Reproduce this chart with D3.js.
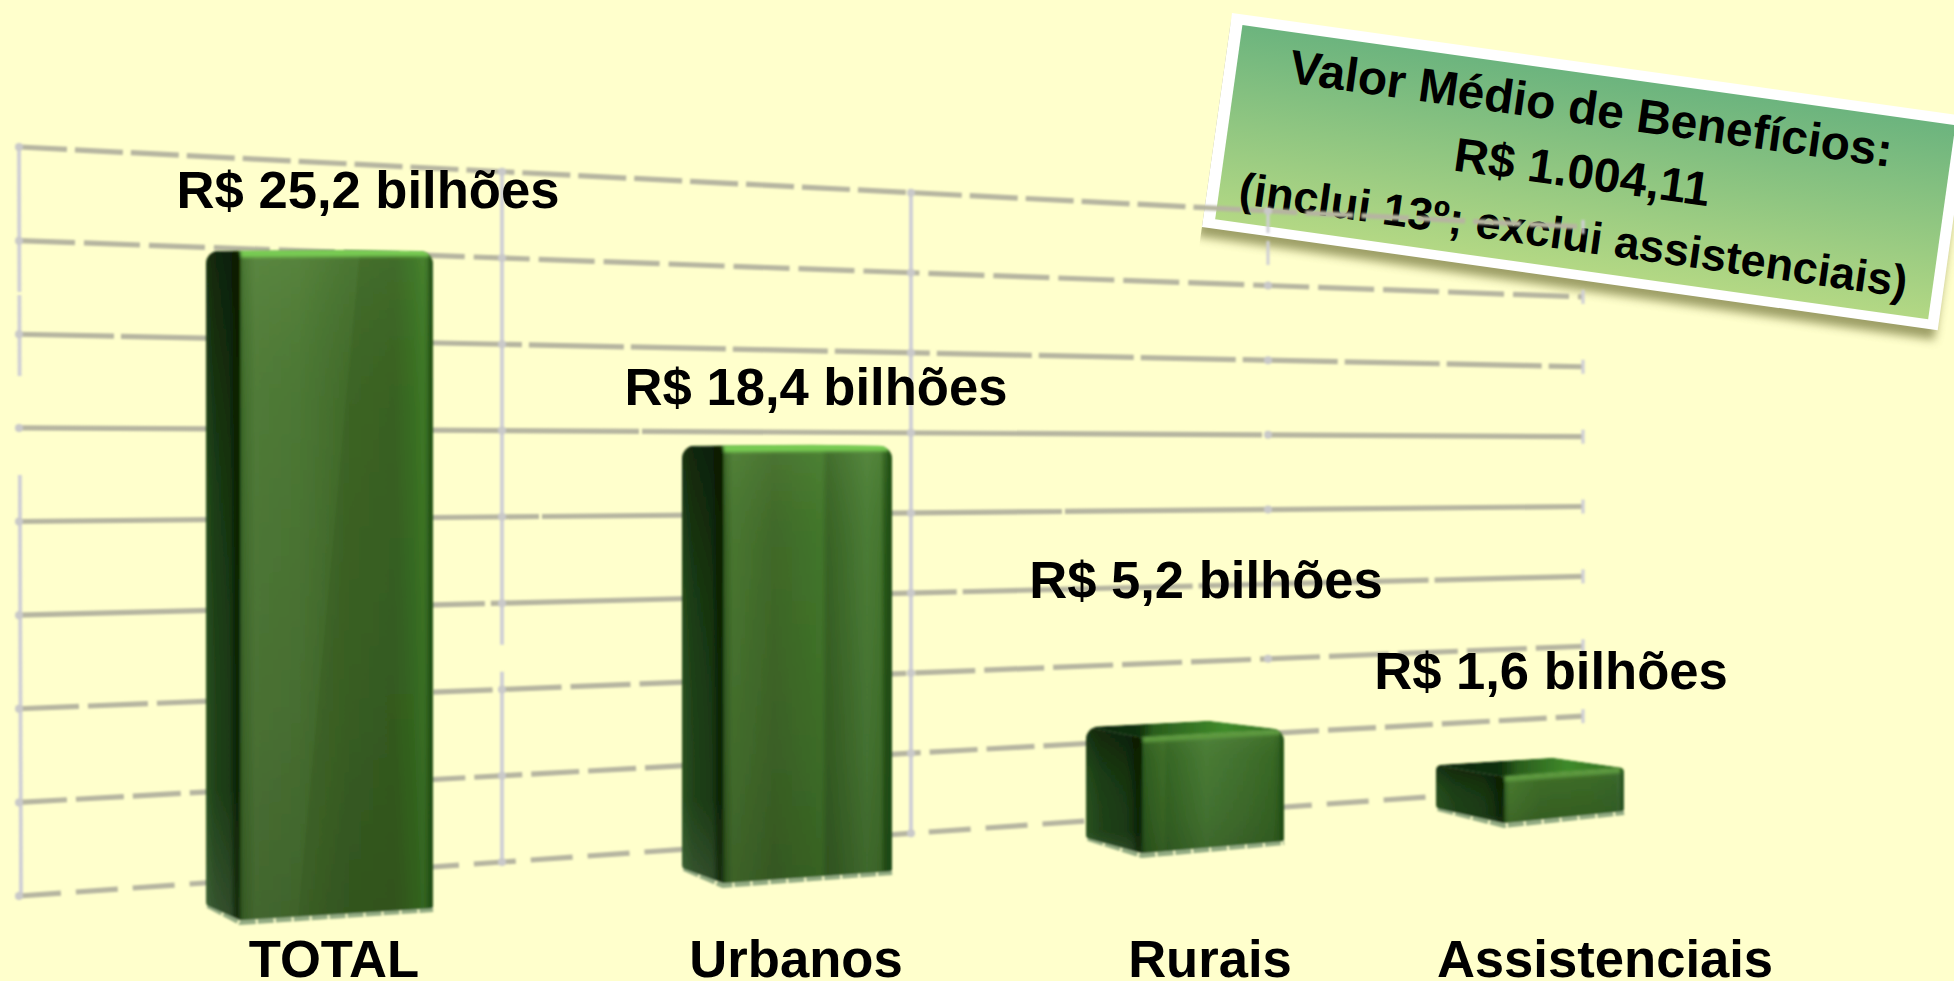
<!DOCTYPE html>
<html lang="pt">
<head>
<meta charset="utf-8">
<title>Valor de benefícios</title>
<script src="https://cdn.jsdelivr.net/npm/d3@7/dist/d3.min.js"></script>
<style>
html,body{margin:0;padding:0;background:#ffffcc;overflow:hidden}
svg{display:block}
text{font-family:"Liberation Sans",Arial,sans-serif;font-weight:700;fill:#000}
</style>
</head>
<body>
<svg id="chart" width="1954" height="981"></svg>
<script>
const categories = ["TOTAL", "Urbanos", "Rurais", "Assistenciais"];
const values = [25.2, 18.4, 5.2, 1.6];
const valueLabels = ["R$ 25,2 bilhões", "R$ 18,4 bilhões", "R$ 5,2 bilhões", "R$ 1,6 bilhões"];
const gridLevels = [0, 1, 2, 3, 4, 5, 6, 7, 8];
const noteLines = ["Valor Médio de Benefícios:", "R$ 1.004,11", "(inclui 13º; exclui assistenciais)"];

const W = 1954, H = 981;
const svg = d3.select("#chart");
const defs = svg.append("defs");
const idx = categories.map((_, i) => i);

/* perspective scales: the floor recedes to the right */
const xLeft   = d3.scaleLinear().domain(idx).range([206, 682, 1086, 1436]);
const xFront  = d3.scaleLinear().domain(idx).range([240, 723, 1142, 1504]);
const xRight  = d3.scaleLinear().domain(idx).range([433, 892, 1284, 1624]);
const ground  = d3.scaleLinear().domain(idx).range([920, 883, 853, 823]);
const unitPx  = d3.scaleLinear().domain(idx).range([25.7, 22.6, 18.3, 16.25]);
const capRise = d3.scaleLinear().domain([450, 777]).range([1.5, 12]).clamp(true);
const topOf   = i => ground(i) - 20 - unitPx(i) * values[i];

const catX    = d3.scaleLinear().domain(idx).range([334, 796, 1210, 1605]);
const valX    = d3.scaleLinear().domain(idx).range([368, 816, 1206, 1551]);
const valY    = d3.scaleLinear().domain(idx).range([208, 405, 598, 689]);

/* wall grid */
const gridLeft  = d3.scaleLinear().domain([0, 8]).range([896, 147]);
const gridRight = d3.scaleLinear().domain([0, 8]).range([786, 227]);
const wallX = d3.scaleLinear().domain([0, 1]).range([19, 1583]);
const gridY = (level, x) => d3.scaleLinear().domain([wallX(0), wallX(1)]).range([gridLeft(level), gridRight(level)])(x);

/* filters */
const blurFilter = (id, sd) => {
  defs.append("filter").attr("id", id).attr("filterUnits", "userSpaceOnUse")
    .attr("x", 0).attr("y", 0).attr("width", W).attr("height", H)
    .append("feGaussianBlur").attr("stdDeviation", sd);
};
blurFilter("softGrid", 0.8);
blurFilter("softBar", 0.9);
blurFilter("soft", 1.5);
blurFilter("shadowBlur", 5);

function gradient(id, stops, attrs) {
  const g = defs.append("linearGradient").attr("id", id);
  Object.entries(attrs || {}).forEach(([k, v]) => g.attr(k, v));
  stops.forEach(s => g.append("stop").attr("offset", s[0]).attr("stop-color", s[1]).attr("stop-opacity", s[2] === undefined ? 1 : s[2]));
  return g;
}

gradient("noteFill", [[0, "#6cb47e"], [1, "#b3d884"]], {x1: 0, x2: 0, y1: 0, y2: 1});

/* ---------- note box ---------- */
const note = svg.append("g").attr("transform", "translate(1232,13) rotate(8)");
note.append("rect").attr("x", -4).attr("y", 10).attr("width", 745).attr("height", 216)
  .attr("fill", "#7d7f45").attr("opacity", .75).attr("filter", "url(#shadowBlur)");
note.append("rect").attr("width", 743).attr("height", 216).attr("fill", "#ffffff");
note.append("rect").attr("x", 12).attr("y", 10.5).attr("width", 720).attr("height", 196).attr("fill", "url(#noteFill)");
const noteSize = [47.8, 47.8, 45];
const noteBase = [61, 125, 188];
note.selectAll("text").data(noteLines).join("text")
  .attr("x", 369).attr("y", (d, i) => noteBase[i]).attr("text-anchor", "middle")
  .attr("font-size", (d, i) => noteSize[i]).text(d => d);

/* ---------- grid ---------- */
const grid = svg.append("g").attr("filter", "url(#softGrid)");
const dashes = {8: "48 8", 7: "56 9", 6: "95 7", 5: "620 3", 4: "520 3", 3: "230 6", 2: "60 9", 1: "48 9", 0: "42 15"};

const verticals = [
  {x: 19, dash: "145 3 81 99 440", from: 8, to: 0},
  {x: 502, dash: "473 27 300", from: 8, to: 0},
  {x: 911, dash: null, from: 8, to: 0}
];
grid.selectAll("line.v").data(verticals).join("line").attr("class", "v")
  .attr("x1", d => d.x).attr("x2", d => d.x + (d.x === 19 ? 2 : 0))
  .attr("y1", d => gridY(d.from, d.x)).attr("y2", d => gridY(d.to, d.x))
  .attr("stroke", "#cfcfd6").attr("stroke-width", 3.8)
  .attr("stroke-dasharray", d => d.dash);
/* short stub of the fourth wall division, just below the note box */
grid.append("line").attr("x1", 1268).attr("x2", 1268)
  .attr("y1", gridY(8, 1268)).attr("y2", gridY(8, 1268) + 54)
  .attr("stroke", "#cfcfd6").attr("stroke-width", 3).attr("stroke-dasharray", "22 8 24");

grid.selectAll("line.h").data(gridLevels).join("line").attr("class", "h")
  .attr("x1", wallX(0)).attr("x2", wallX(1))
  .attr("y1", d => gridLeft(d)).attr("y2", d => gridRight(d))
  .attr("stroke", "#b6b5a0").attr("stroke-width", 5.2)
  .attr("stroke-dasharray", d => dashes[d]);

/* crossing nubs and right-hand end ticks */
const crossings = gridLevels.flatMap(l => [19, 502, 911, 1268].map(x => ({l, x})));
grid.selectAll("circle.n").data(crossings).join("circle").attr("class", "n")
  .attr("cx", d => d.x).attr("cy", d => gridY(d.l, d.x)).attr("r", 4).attr("fill", "#c9c9c9");
grid.selectAll("line.e").data(gridLevels).join("line").attr("class", "e")
  .attr("x1", wallX(1)).attr("x2", wallX(1))
  .attr("y1", d => gridRight(d) - 7).attr("y2", d => gridRight(d) + 7)
  .attr("stroke", "#cfcfd6").attr("stroke-width", 3.2);

/* ---------- bars ---------- */
function rounded(pts, r) {
  const p = d3.path();
  const n = pts.length;
  const mid = (a, b) => [(a[0] + b[0]) / 2, (a[1] + b[1]) / 2];
  const s = mid(pts[n - 1], pts[0]);
  p.moveTo(s[0], s[1]);
  pts.forEach((c, i) => {
    const nx = pts[(i + 1) % n];
    const rad = Array.isArray(r) ? r[i] : r;
    p.arcTo(c[0], c[1], nx[0], nx[1], rad);
  });
  p.closePath();
  return p.toString();
}
const poly = pts => "M" + pts.map(d => d.join(",")).join("L") + "Z";

gradient("sideFill", [[0, "#254f1c"], [.25, "#1c3f15"], [.7, "#16350f"], [.92, "#0c2607"], [1, "#103010"]], {x1: 0, x2: 1, y1: 0, y2: 0});
gradient("sideShade", [[0, "#000", .38], [.35, "#000", .05], [.8, "#fff", .02], [1, "#fff", .12]], {x1: 0, x2: 0, y1: 0, y2: 1});
gradient("frontShade", [[0, "#b8e090", .08], [.25, "#000", .04], [.7, "#000", .12], [1, "#000", .2]], {x1: 0, x2: 0, y1: 0, y2: 1});

const frontStops = [
  [[0, "#3f6d2a"], [.08, "#537f3a"], [.3, "#4f7c36"], [.55, "#446f2c"], [.8, "#3f6b28"], [.9, "#3f7a28"], [.95, "#45852d"], [1, "#2f5f1e"]],
  [[0, "#355f22"], [.06, "#4b7a32"], [.3, "#426c2a"], [.58, "#447a2c"], [.62, "#3a6626"], [.85, "#4d8037"], [.93, "#477a30"], [.96, "#2a5a1a"], [1, "#214f16"]],
  [[0, "#2f5f20"], [.15, "#3f7029"], [.18, "#386a26"], [.45, "#4b7f36"], [.7, "#447530"], [.92, "#3a6c26"], [1, "#2b5a1c"]],
  [[0, "#3b6c28"], [.05, "#4a7c30"], [.3, "#3f6f29"], [.7, "#3d6d27"], [.93, "#39692a"], [1, "#4a6f44"]]
];
frontStops.forEach((st, i) => gradient("front" + i, st, {x1: 0, x2: 1, y1: 0, y2: 0}));

const bars = svg.append("g").attr("filter", "url(#softBar)");
idx.forEach(i => {
  const xl = xLeft(i), xf = xFront(i), xr = xRight(i), g0 = ground(i);
  const yc = topOf(i), rise = capRise(yc);
  const yl = yc - rise, yr = yc - rise * 0.75, yb = yc - rise * 1.6;
  const xb = xl + (xr - xl) * 0.62;
  const botL = g0 - 15, botR = g0 - 12;
  const sil = [[xl, yl], [xb, yb], [xr, yr], [xr, botR], [xf, g0], [xl, botL]];
  const radTop = Math.min(13, Math.abs(yc - g0) * .12);

  const clipId = "barClip" + i;
  defs.append("clipPath").attr("id", clipId).append("path").attr("d", rounded(sil, [radTop, 0, radTop, 3, 2, 4]));

  /* bottom fringe */
  bars.append("path").attr("d", poly([[xl + 2, botL - 1], [xf, g0 + 1], [xr, botR]]).replace("Z", ""))
    .attr("fill", "none").attr("stroke", "#7f9c75").attr("stroke-width", 6)
    .attr("stroke-dasharray", "16 2").attr("opacity", .85).attr("transform", "translate(0,1)");
  const b = bars.append("g").attr("clip-path", `url(#${clipId})`);

  const side = [[xl, yl], [xf, yc], [xf, g0 + 4], [xl, botL + 4]];
  b.append("path").attr("d", poly(side)).attr("fill", "url(#sideFill)");
  b.append("path").attr("d", poly(side)).attr("fill", "url(#sideShade)");

  const front = [[xf, yc], [xr, yr], [xr, botR + 4], [xf, g0 + 4]];
  b.append("path").attr("d", poly(front)).attr("fill", `url(#front${i})`);
  b.append("path").attr("d", poly(front)).attr("fill", "url(#frontShade)");

  /* TOTAL's front face carries a diagonal reflection edge */
  if (i === 0) {
    const w = xr - xf;
    b.append("path").attr("d", poly([[xf + w * .62, yc], [xr, yr], [xr, g0], [xf + w * .3, g0]]))
      .attr("fill", "#1c3a08").attr("opacity", .13);
  }

  /* cap */
  const cap = [[xl, yl], [xb, yb], [xr, yr], [xf, yc]];
  const capId = "cap" + i;
  gradient(capId, [[0, "#0d2707"], [(xf - xl) / (xr - xl) * .95, "#10300a"], [(xf - xl) / (xr - xl) * 1.2, "#2a5c1d"],
    [.7, "#3f8a2a"], [1, "#2f6a20"]],
    {gradientUnits: "userSpaceOnUse", x1: xl, x2: xr, y1: 0, y2: 0});
  b.append("path").attr("d", poly(cap)).attr("fill", `url(#${capId})`);

  /* bright bevel on the front top edge */
  const bevel = i < 2 ? "#78cc52" : "#5f9c3f";
  b.append("line").attr("x1", xf).attr("x2", xr).attr("y1", yc + (i < 2 ? 1 : 2)).attr("y2", yr + (i < 2 ? 1 : 2))
    .attr("stroke", bevel).attr("stroke-width", i < 2 ? 8 : 5).attr("filter", "url(#soft)");
  /* dark seam where side meets front */
  b.append("line").attr("x1", xf - 3).attr("x2", xf - 3).attr("y1", yc).attr("y2", g0)
    .attr("stroke", "#0a2406").attr("stroke-width", 7).attr("opacity", .55).attr("filter", "url(#soft)");
  /* dark right shoulder */
  b.append("line").attr("x1", xr - 2).attr("x2", xr - 2).attr("y1", yr).attr("y2", botR)
    .attr("stroke", "#214f16").attr("stroke-width", 5).attr("opacity", .6);
});

/* ---------- labels ---------- */
const labels = svg.append("g");
labels.append("g").selectAll("text").data(valueLabels).join("text")
  .attr("x", (d, i) => valX(i)).attr("y", (d, i) => valY(i))
  .attr("text-anchor", "middle").attr("font-size", 52.6).text(d => d);
labels.append("g").selectAll("text").data(categories).join("text")
  .attr("x", (d, i) => catX(i)).attr("y", 977)
  .attr("text-anchor", "middle").attr("font-size", 52.6).text(d => d);
</script>
</body>
</html>
